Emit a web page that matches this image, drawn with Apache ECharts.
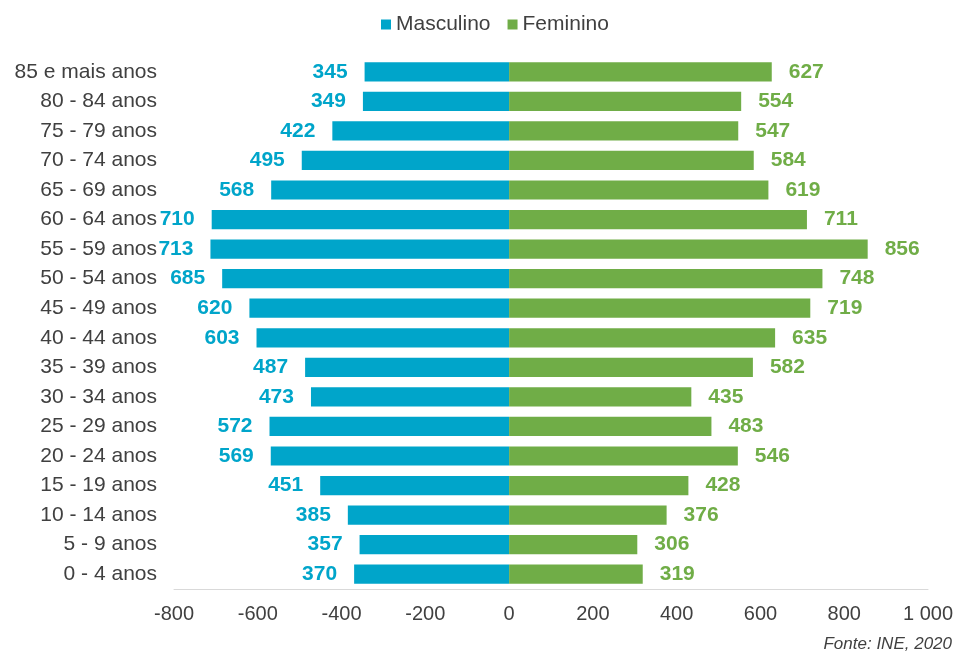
<!DOCTYPE html>
<html><head><meta charset="utf-8">
<script src="https://cdn.jsdelivr.net/npm/echarts@6/dist/echarts.min.js"></script>
<style>html,body{margin:0;padding:0;background:#fff}#c{width:966px;height:655px}</style>
</head><body><div id="c"></div>
<script>
const categories = ["0 - 4 anos","5 - 9 anos","10 - 14 anos","15 - 19 anos","20 - 24 anos","25 - 29 anos","30 - 34 anos","35 - 39 anos","40 - 44 anos","45 - 49 anos","50 - 54 anos","55 - 59 anos","60 - 64 anos","65 - 69 anos","70 - 74 anos","75 - 79 anos","80 - 84 anos","85 e mais anos"];
const masculino = [370,357,385,451,569,572,473,487,603,620,685,713,710,568,495,422,349,345];
const feminino = [319,306,376,428,546,483,435,582,635,719,748,856,711,619,584,547,554,627];
const xTicks = {min:-800, max:1000, interval:200};
const source = "Fonte: INE, 2020";

const chart = echarts.init(document.getElementById('c'));
const font = 'Liberation Sans, Arial, sans-serif';
chart.setOption({
  animation:false,
  textStyle:{fontFamily:font},
  legend:{top:9, left:376, itemWidth:10, itemHeight:10, itemGap:17,
    icon:'rect', textStyle:{fontSize:21, color:'#404040', fontFamily:font},
    data:['Masculino','Feminino']},
  grid:{left:174, right:38, top:57, bottom:66, containLabel:false},
  xAxis:{type:'value', min:xTicks.min, max:xTicks.max, interval:xTicks.interval,
    axisLine:{show:true, onZero:false, lineStyle:{color:'#d9d9d9', width:1}},
    axisTick:{show:false}, splitLine:{show:false},
    axisLabel:{fontSize:20, color:'#404040', margin:15, fontFamily:font,
      formatter:v=>{const s=String(Math.abs(v)).replace(/\B(?=(\d{3})+(?!\d))/g,' ');return (v<0?'-':'')+s;}}},
  yAxis:{type:'category', data:categories,
    axisLine:{show:false}, axisTick:{show:false},
    axisLabel:{fontSize:21, color:'#404040', margin:17, fontFamily:font}},
  series:[
    {name:'Masculino', type:'bar', data:masculino.map(v=>-v), barWidth:'65%', barGap:'-100%',
      itemStyle:{color:'#00A5CA'},
      label:{show:true, position:'left', distance:17, color:'#00A5CA', fontWeight:'bold', fontSize:21, fontFamily:font,
        formatter:p=>Math.abs(p.value)}},
    {name:'Feminino', type:'bar', data:feminino, barWidth:'65%',
      itemStyle:{color:'#70AD47'},
      label:{show:true, position:'right', distance:17, color:'#70AD47', fontWeight:'bold', fontSize:21, fontFamily:font}}
  ],
  graphic:[
    {type:'text', right:14, top:636, style:{text:source, fill:'#404040', font:'italic 17px Liberation Sans, Arial, sans-serif'}}
  ]
});
</script></body></html>
